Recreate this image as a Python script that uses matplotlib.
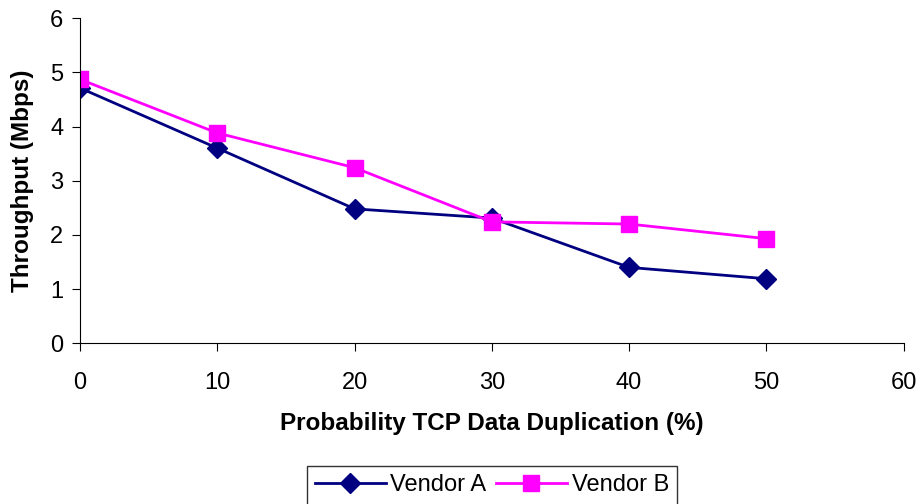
import matplotlib.pyplot as plt

plt.rcParams['font.family'] = ['Liberation Sans', 'DejaVu Sans']

# Throughput vs. duplication probability
dup_prob = [0, 10, 20, 30, 40, 50]
vendor_a = [4.71, 3.60, 2.48, 2.31, 1.40, 1.19]
vendor_b = [4.87, 3.88, 3.24, 2.24, 2.20, 1.93]

fig = plt.figure(figsize=(9.21, 5.04), dpi=100)
ax = fig.add_axes([0.087, 0.319, 0.894, 0.645])

ax.plot(dup_prob, vendor_a, color='#000080', marker='D', markersize=10,
        linewidth=2, label='Vendor A')
ax.plot(dup_prob, vendor_b, color='#ff00ff', marker='s', markersize=11,
        linewidth=2, label='Vendor B')

ax.set_xlim(0, 60)
ax.set_ylim(0, 6)
ax.set_xticks(range(0, 61, 10))
ax.set_yticks(range(0, 7))
ax.spines['top'].set_visible(False)
ax.spines['right'].set_visible(False)
ax.tick_params(direction='out', length=6, labelsize=17)
ax.tick_params(axis='x', pad=15)
ax.tick_params(axis='y', pad=6)

ax.set_xlabel('Probability TCP Data Duplication (%)', fontsize=17.5,
              fontweight='bold', labelpad=13)
ax.set_ylabel('Throughput (Mbps)', fontsize=17.5, fontweight='bold',
              labelpad=12)

leg = fig.legend(*ax.get_legend_handles_labels(), loc='upper center',
                 bbox_to_anchor=(0.534, 0.075), ncol=2, fontsize=17,
                 frameon=True, fancybox=False, edgecolor='black',
                 handlelength=3, columnspacing=0.4, handletextpad=0.2,
                 borderpad=0.35, borderaxespad=0)
leg.get_frame().set_linewidth(1)

fig.savefig('out.png', dpi=100)
